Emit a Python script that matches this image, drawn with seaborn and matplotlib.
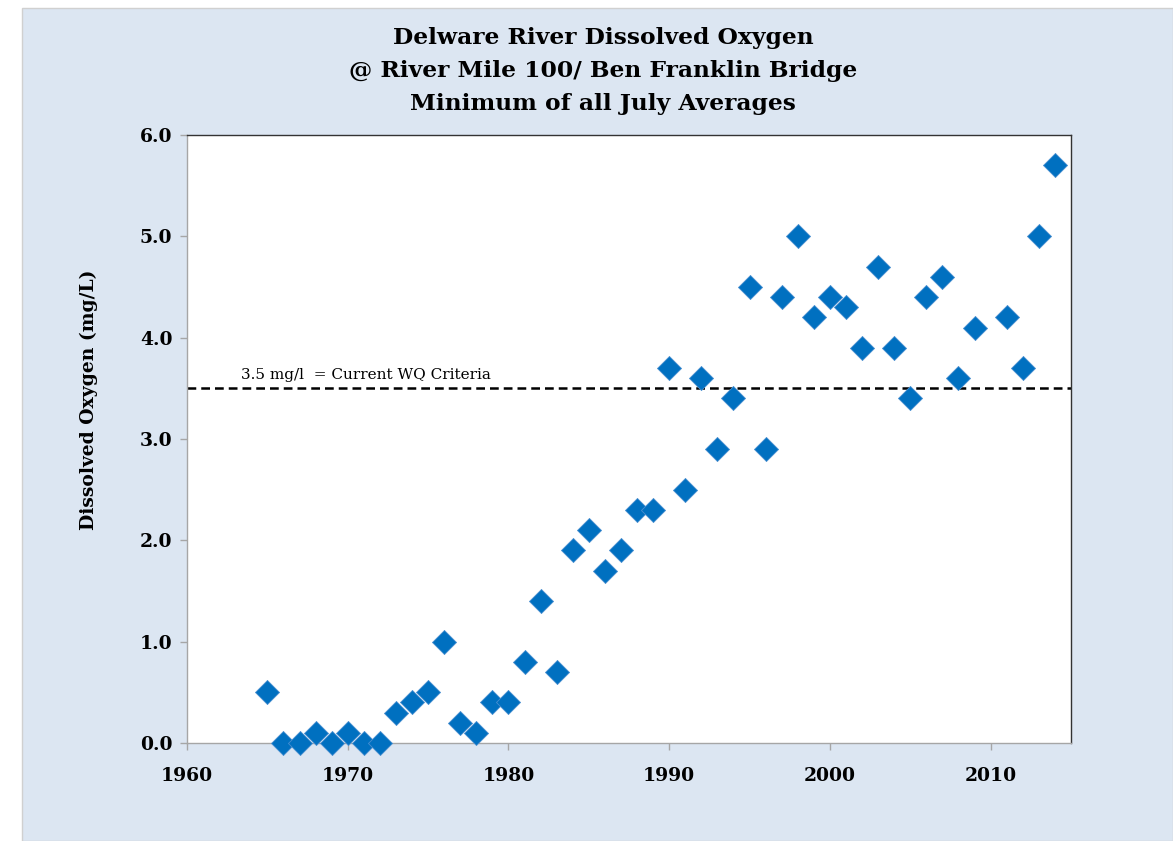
import pandas as pd
import matplotlib
matplotlib.use("Agg")
import matplotlib.pyplot as plt
import seaborn as sns
from matplotlib.patches import Rectangle
from matplotlib.ticker import FormatStrFormatter

# data (2010 has no point)
years = [1965, 1966, 1967, 1968, 1969, 1970, 1971, 1972, 1973, 1974,
         1975, 1976, 1977, 1978, 1979, 1980, 1981, 1982, 1983, 1984,
         1985, 1986, 1987, 1988, 1989, 1990, 1991, 1992, 1993, 1994,
         1995, 1996, 1997, 1998, 1999, 2000, 2001, 2002, 2003, 2004,
         2005, 2006, 2007, 2008, 2009, 2011, 2012, 2013, 2014]
do_min = [0.5, 0.0, 0.0, 0.1, 0.0, 0.1, 0.0, 0.0, 0.3, 0.4,
          0.5, 1.0, 0.2, 0.1, 0.4, 0.4, 0.8, 1.4, 0.7, 1.9,
          2.1, 1.7, 1.9, 2.3, 2.3, 3.7, 2.5, 3.6, 2.9, 3.4,
          4.5, 2.9, 4.4, 5.0, 4.2, 4.4, 4.3, 3.9, 4.7, 3.9,
          3.4, 4.4, 4.6, 3.6, 4.1, 4.2, 3.7, 5.0, 5.7]
criteria = 3.5
criteria_label = "3.5 mg/l  = Current WQ Criteria"
title_lines = ["Delware River Dissolved Oxygen",
               "@ River Mile 100/ Ben Franklin Bridge",
               "Minimum of all July Averages"]
x_ticks = [1960, 1970, 1980, 1990, 2000, 2010]
y_ticks = [0, 1, 2, 3, 4, 5, 6]

df = pd.DataFrame({"Year": years, "DO": do_min})

sns.set_style("white")
plt.rcParams['font.family'] = ['DejaVu Serif', 'DejaVu Sans']
plt.rcParams['text.color'] = 'black'
plt.rcParams['axes.labelcolor'] = 'black'

W, H = 1173, 841
fig = plt.figure(figsize=(W / 100, H / 100), dpi=100, facecolor="white")

# light blue chart area with white margin top/left
bg = Rectangle((22 / W, 0), 1 - 22 / W, 1 - 8 / H, transform=fig.transFigure,
               facecolor="#dce6f2", edgecolor="#d0d0d0", linewidth=1, zorder=-10)
fig.patches.append(bg)

ax = fig.add_axes([187 / W, 1 - 743 / H, (1071 - 187) / W, (743 - 135) / H])
ax.set_facecolor("white")

sns.scatterplot(data=df, x="Year", y="DO", marker="D", s=150,
                color="#0070c0", edgecolor="#4a8fd0", linewidth=0.6,
                clip_on=False, zorder=3, ax=ax)

ax.axhline(criteria, color="black", linestyle=(0, (3.5, 2)), linewidth=1.8, zorder=2)
ax.text(1963.36, 3.56, criteria_label, fontsize=11, ha="left", va="bottom")

ax.set_xlim(1960, 2015)
ax.set_ylim(0, 6)
ax.set_xticks(x_ticks)
ax.set_yticks(y_ticks)
ax.yaxis.set_major_formatter(FormatStrFormatter("%.1f"))
ax.tick_params(axis="both", direction="out", length=5, width=1, color="#a6a6a6",
               labelsize=13.5, labelcolor="black", bottom=True, left=True)
ax.tick_params(axis="x", pad=12)
ax.tick_params(axis="y", pad=5.5)
for lab in ax.get_xticklabels() + ax.get_yticklabels():
    lab.set_fontweight("bold")

for side in ["left", "bottom"]:
    ax.spines[side].set_color("#a6a6a6")
    ax.spines[side].set_linewidth(1)
for side in ["top", "right"]:
    ax.spines[side].set_color("#333333")
    ax.spines[side].set_linewidth(1)

ax.set_xlabel("")
ax.set_ylabel("Dissolved Oxygen (mg/L)", fontsize=13.5, fontweight="bold")
ax.yaxis.set_label_coords(-0.101, 0.564)

for i, line in enumerate(title_lines):
    fig.text(603 / W, 1 - (38 + 33 * i) / H, line, ha="center", va="center",
             fontsize=16.8, fontweight="bold")

plt.savefig("out.png", dpi=100)
